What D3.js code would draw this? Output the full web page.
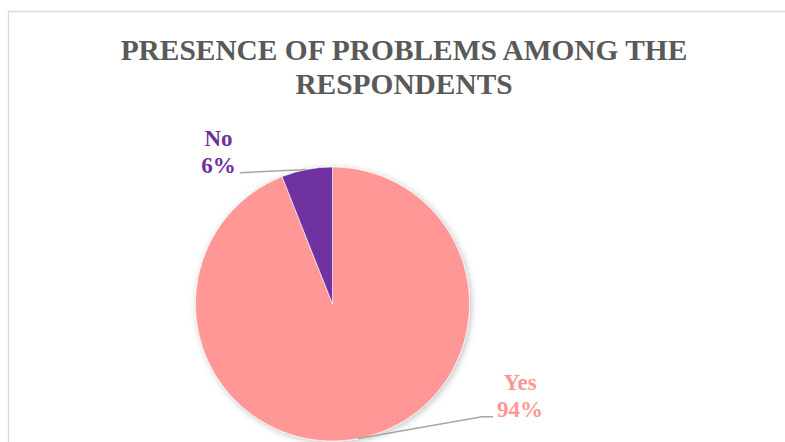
<!DOCTYPE html>
<html>
<head>
<meta charset="utf-8">
<script src="https://cdn.jsdelivr.net/npm/d3@7/dist/d3.min.js"></script>
<style>
  html, body { margin: 0; padding: 0; background: #fff; overflow: hidden; }
  svg { display: block; }
  text { font-family: "Liberation Serif", "Times New Roman", serif; font-weight: bold; }
</style>
</head>
<body>
<script>
// Survey answers and their shares (%)
const categories = ["Yes", "No"];
const shares = [94, 6];
const sliceColors = ["#ff9797", "#7030a0"];
const titleLines = ["PRESENCE OF PROBLEMS AMONG THE", "RESPONDENTS"];

const W = 785, H = 442;
const svg = d3.select("body").append("svg").attr("width", W).attr("height", H);

// drop shadow for the pie
const defs = svg.append("defs");
const f = defs.append("filter").attr("id", "pieShadow")
  .attr("x", "-20%").attr("y", "-20%").attr("width", "140%").attr("height", "140%");
f.append("feDropShadow").attr("dx", 1.5).attr("dy", 1.5).attr("stdDeviation", 3)
  .attr("flood-color", "#000").attr("flood-opacity", 0.25);

// chart frame
svg.append("rect")
  .attr("x", 8.5).attr("y", 11.5).attr("width", 800).attr("height", 460)
  .attr("fill", "#fff").attr("stroke", "#d9d9d9").attr("stroke-width", 1.3);

// title
const title = svg.append("text")
  .attr("x", 404).attr("y", 59.5)
  .attr("text-anchor", "middle")
  .attr("fill", "#595959")
  .style("font-size", "29.4px");
titleLines.forEach((t, i) => {
  title.append("tspan").attr("x", 404).attr("dy", i === 0 ? 0 : 34).text(t);
});

// pie
const cx = 332.5, cy = 304, r = 137;
const data = categories.map((c, i) => ({ cat: c, value: shares[i], color: sliceColors[i] }));
const pie = d3.pie().sort(null).value(d => d.value);
const arcs = pie(data);
const arc = d3.arc().innerRadius(0).outerRadius(r);
const edgeArc = d3.arc().innerRadius(r).outerRadius(r);

const g = svg.append("g").attr("transform", `translate(${cx},${cy})`);
g.append("g").attr("filter", "url(#pieShadow)")
  .selectAll("path").data(arcs).join("path")
  .attr("d", arc)
  .attr("fill", d => d.data.color)
  .attr("stroke", "#fff").attr("stroke-width", 0.6);

// leader lines and data labels
const labelSpec = {
  "No":  { bend: [-92.5, -131.3], end: [-92.5, -131.3], tx: -114, ty: -158 },
  "Yes": { bend: [149.5, 112.7], end: [160.5, 112.7], tx: 187.5, ty: 86 }
};
arcs.forEach(a => {
  const s = labelSpec[a.data.cat];
  const p0 = edgeArc.centroid(a);
  const pts = [p0, s.bend, s.end];
  g.append("path")
    .attr("d", d3.line()(pts))
    .attr("fill", "none")
    .attr("stroke", "#a6a6a6")
    .attr("stroke-width", 1.5);
  const t = g.append("text")
    .attr("x", s.tx).attr("y", s.ty)
    .attr("text-anchor", "middle")
    .attr("fill", a.data.color)
    .style("font-size", "23px");
  t.append("tspan").attr("x", s.tx).attr("dy", 0).text(a.data.cat);
  t.append("tspan").attr("x", s.tx).attr("dy", 26.5).text(d3.format(".0f")(a.data.value) + "%");
});
</script>
</body>
</html>
